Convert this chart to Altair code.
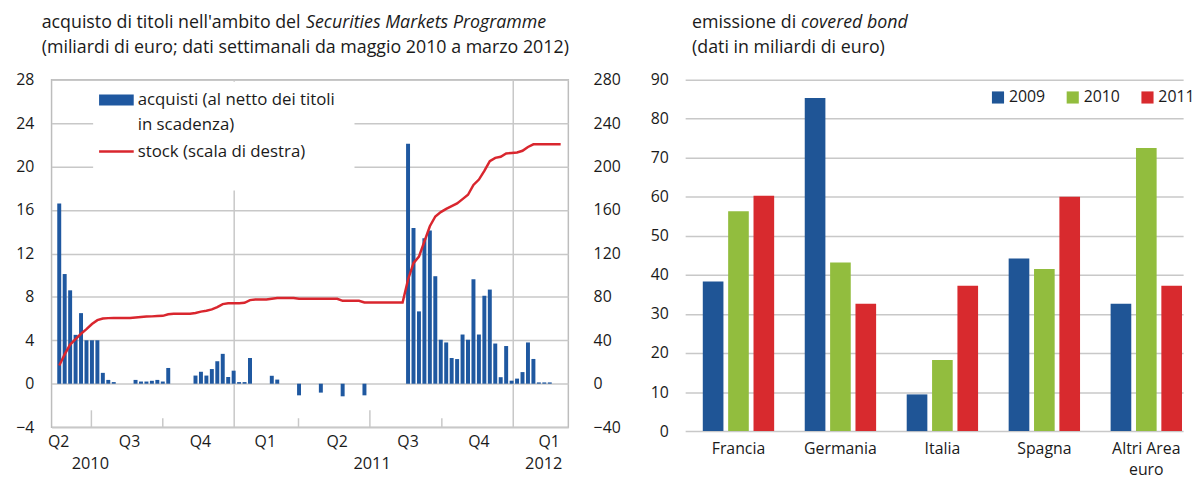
import altair as alt
import pandas as pd

FONT = "Open Sans"
BLUE = "#1f58a0"
RED = "#d9262e"
BLUE2 = "#1f5596"
GREEN = "#92bd3e"
RED2 = "#d82a2e"
GRID = "#c8c8c8"
FRAME = "#bdbdbd"
TXT = "#1a1a1a"

# ---------------- left panel: Securities Markets Programme (weekly) ----------------
acquisti = [
    16.6, 10.1, 8.6, 4.5, 6.5, 4.0, 4.0, 4.0, 1.0, 0.35, 0.15,
    0, 0, 0,
    0.35, 0.2, 0.2, 0.27, 0.35, 0.2, 1.45,
    0, 0, 0, 0,
    0.75, 1.1, 0.75, 1.35, 2.07, 2.75, 0.62, 1.2, 0.15, 0.15, 2.37,
    0, 0, 0,
    0.73, 0.38,
    0, 0, 0,
    -1.07, 0, 0, 0, -0.82, 0, 0, 0, -1.16, 0, 0, 0, -1.07,
    0, 0, 0, 0, 0, 0, 0,
    22.1, 14.35, 6.66, 13.4, 14.1, 9.9, 4.05, 3.8, 2.37, 2.27, 4.53, 4.05,
    9.62, 4.53, 8.1, 8.67, 3.7, 0.6, 3.47, 0.28, 0.47, 1.07, 3.8, 2.28,
    0.12, 0.12, 0.12, 0, 0,
]
stock = [
    16.7, 27, 36, 41, 46, 50.2, 55, 58.5, 60, 60.4, 60.6,
    60.6, 60.6, 60.6,
    61, 61.5, 61.8, 62, 62.3, 62.5, 64,
    64.5, 64.5, 64.5, 64.5,
    65.2, 66.4, 67.2, 68.5, 70.6, 73.3, 74, 74, 74.2, 74.5, 77,
    77.6, 77.6, 77.6,
    78.3, 79,
    79, 79, 79,
    78.2, 78.2, 78.2, 78.2, 78.2, 78.2, 78.2, 78.2, 76.3, 76.3, 76.3, 76.3, 74.8,
    74.8, 74.8, 74.8, 74.8, 74.8, 74.8, 74.8,
    96, 111, 117, 131, 145, 154, 158, 161, 163.5, 166, 170, 174,
    183, 188, 196, 205, 208, 209, 212, 212.5, 213, 214.5, 218, 220.5,
    220.5, 220.5, 220.5, 220.5, 220.5,
]
settimane = list(range(len(acquisti)))

half_ticks = [5.9, 57.0]            # 1 luglio
quarter_ticks = [19.0, 43.9, 70.2]  # 1 ottobre / 1 aprile
year_lines = [32.1, 83.3]           # 1 gennaio
q_labels = ["Q2", "Q3", "Q4", "Q1", "Q2", "Q3", "Q4", "Q1"]
q_pos = [-0.1, 12.9, 25.9, 37.8, 51.0, 64.0, 77.0, 89.9]
year_labels = ["2010", "2011", "2012"]
year_pos = [5.7, 57.4, 88.9]

# ---------------- right panel: covered bond ----------------
paesi = ["Francia", "Germania", "Italia", "Spagna", "Altri Area euro"]
anni = ["2009", "2010", "2011"]
v2009 = [38.3, 85.3, 9.4, 44.2, 32.6]
v2010 = [56.3, 43.2, 18.2, 41.5, 72.5]
v2011 = [60.3, 32.6, 37.2, 60.0, 37.2]

W1, H1 = 522, 351
W2, H2 = 503, 355
GAP = 118

xs = alt.Scale(domain=[-0.5, 92.5], nice=False, zero=False)


def X(f="w"):
    return alt.X(f"{f}:Q", scale=xs, axis=None)


def txt(s, x, y, size=17, align="left", style="normal", baseline="middle"):
    return alt.Chart(pd.DataFrame({"t": [s]})).mark_text(
        align=align, baseline=baseline, font=FONT, fontSize=size, color=TXT, fontStyle=style
    ).encode(text="t:N", x=alt.value(x), y=alt.value(y))


one = pd.DataFrame({"a": [0]})
df = pd.DataFrame({"w": settimane, "acq": acquisti, "stock": stock})

year_rules = alt.Chart(pd.DataFrame({"w": year_lines})).mark_rule(
    color=GRID, strokeWidth=1.5).encode(x=X(), y=alt.value(0), y2=alt.value(H1))
legend_box = alt.Chart(one).mark_rect(color="white").encode(
    x=alt.value(42), x2=alt.value(306), y=alt.value(2), y2=alt.value(112))
half = alt.Chart(pd.DataFrame({"w": half_ticks})).mark_rule(
    color=GRID, strokeWidth=1.5).encode(x=X(), y=alt.value(H1 - 17), y2=alt.value(H1))
quart = alt.Chart(pd.DataFrame({"w": quarter_ticks})).mark_rule(
    color=GRID, strokeWidth=1.5).encode(x=X(), y=alt.value(H1 - 9), y2=alt.value(H1))

bars = alt.Chart(df).transform_filter("datum.acq != 0").mark_bar(size=4, color=BLUE).encode(
    x=X(),
    y=alt.Y("acq:Q", scale=alt.Scale(domain=[-4, 28], nice=False, zero=False),
            axis=alt.Axis(values=list(range(-4, 29, 4)), title=None, domain=False, ticks=False,
                          grid=True, gridColor=GRID, gridWidth=1.5, labelPadding=18,
                          labelFontSize=16)),
    y2=alt.datum(0),
)
line = alt.Chart(df).mark_line(color=RED, strokeWidth=2.5).encode(
    x=X(),
    y=alt.Y("stock:Q", scale=alt.Scale(domain=[-40, 280], nice=False, zero=False),
            axis=alt.Axis(orient="right", values=list(range(-40, 281, 40)), title=None,
                          domain=False, ticks=False, grid=False, labelAlign="left",
                          labelPadding=25, labelFontSize=16)),
)
sw_bar = alt.Chart(one).mark_rect(color=BLUE).encode(
    x=alt.value(48), x2=alt.value(83), y=alt.value(15), y2=alt.value(26))
sw_line = alt.Chart(one).mark_rule(color=RED, strokeWidth=2.5).encode(
    x=alt.value(48), x2=alt.value(83), y=alt.value(72.5))

qlab = alt.Chart(pd.DataFrame({"p": q_pos, "t": q_labels})).mark_text(
    font=FONT, fontSize=16, color=TXT, baseline="middle").encode(
    x=X("p"), y=alt.value(H1 + 15), text="t:N")
ylab = alt.Chart(pd.DataFrame({"p": year_pos, "t": year_labels})).mark_text(
    font=FONT, fontSize=16.5, color=TXT, baseline="middle").encode(
    x=X("p"), y=alt.value(H1 + 37), text="t:N")

left = alt.layer(
    year_rules, legend_box, half, quart, bars, line, sw_bar, sw_line,
    txt("acquisti (al netto dei titoli", 87, 21, 17),
    txt("in scadenza)", 87, 46, 17),
    txt("stock (scala di destra)", 87, 73, 17),
    qlab, ylab,
    txt("acquisto di titoli nell'ambito del", -10, -57, 18),
    txt("Securities Markets Programme", 257, -57, 18, style="italic"),
    txt("(miliardi di euro; dati settimanali da maggio 2010 a marzo 2012)", -10, -32, 18),
).resolve_scale(y="independent").properties(
    width=W1, height=H1, view=alt.ViewBackground(stroke=FRAME, strokeWidth=1.5))

df2 = pd.DataFrame({
    "paese": paesi * 3,
    "anno": [a for a in anni for _ in paesi],
    "v": v2009 + v2010 + v2011,
})
bars2 = alt.Chart(df2).mark_bar().encode(
    x=alt.X("paese:N", sort=paesi,
            scale=alt.Scale(paddingInner=0.3, paddingOuter=0.092, align=0.94),
            axis=alt.Axis(title=None, labelAngle=0, domain=False, ticks=False, labelPadding=10,
                          labelFontSize=16, labelLineHeight=21,
                          labelExpr="datum.label == 'Altri Area euro' ? ['Altri Area', 'euro'] : datum.label")),
    xOffset=alt.XOffset("anno:N", sort=anni, scale=alt.Scale(paddingInner=0.186, paddingOuter=0)),
    y=alt.Y("v:Q", scale=alt.Scale(domain=[0, 90], nice=False),
            axis=alt.Axis(values=list(range(0, 91, 10)), title=None, domain=False, ticks=False,
                          grid=True, gridColor=GRID, gridWidth=1.5, labelPadding=17,
                          labelFontSize=16)),
    color=alt.Color("anno:N", sort=anni,
                    scale=alt.Scale(domain=anni, range=[BLUE2, GREEN, RED2]),
                    legend=alt.Legend(orient="none", legendX=W1 + GAP + 308, legendY=10,
                                      direction="horizontal",
                                      title=None, symbolType="square", symbolSize=150,
                                      symbolStrokeWidth=0, labelFontSize=16, labelOffset=3,
                                      columnPadding=19.5, padding=0)),
)
right = alt.layer(
    bars2,
    txt("emissione di", 7, -57, 18),
    txt("covered bond", 117, -57, 18, style="italic"),
    txt("(dati in miliardi di euro)", 7, -32, 18),
).properties(width=W2, height=H2)

chart = alt.hconcat(left, right, spacing=GAP, bounds="flush").properties(
    padding={"left": 6, "top": 3, "right": 0, "bottom": 0}
).configure_view(strokeWidth=0).configure_axis(
    labelFont=FONT, labelColor=TXT
).configure_legend(labelFont=FONT, labelColor=TXT)

chart.save("out.html", embed_options={"renderer": "svg", "actions": False})
